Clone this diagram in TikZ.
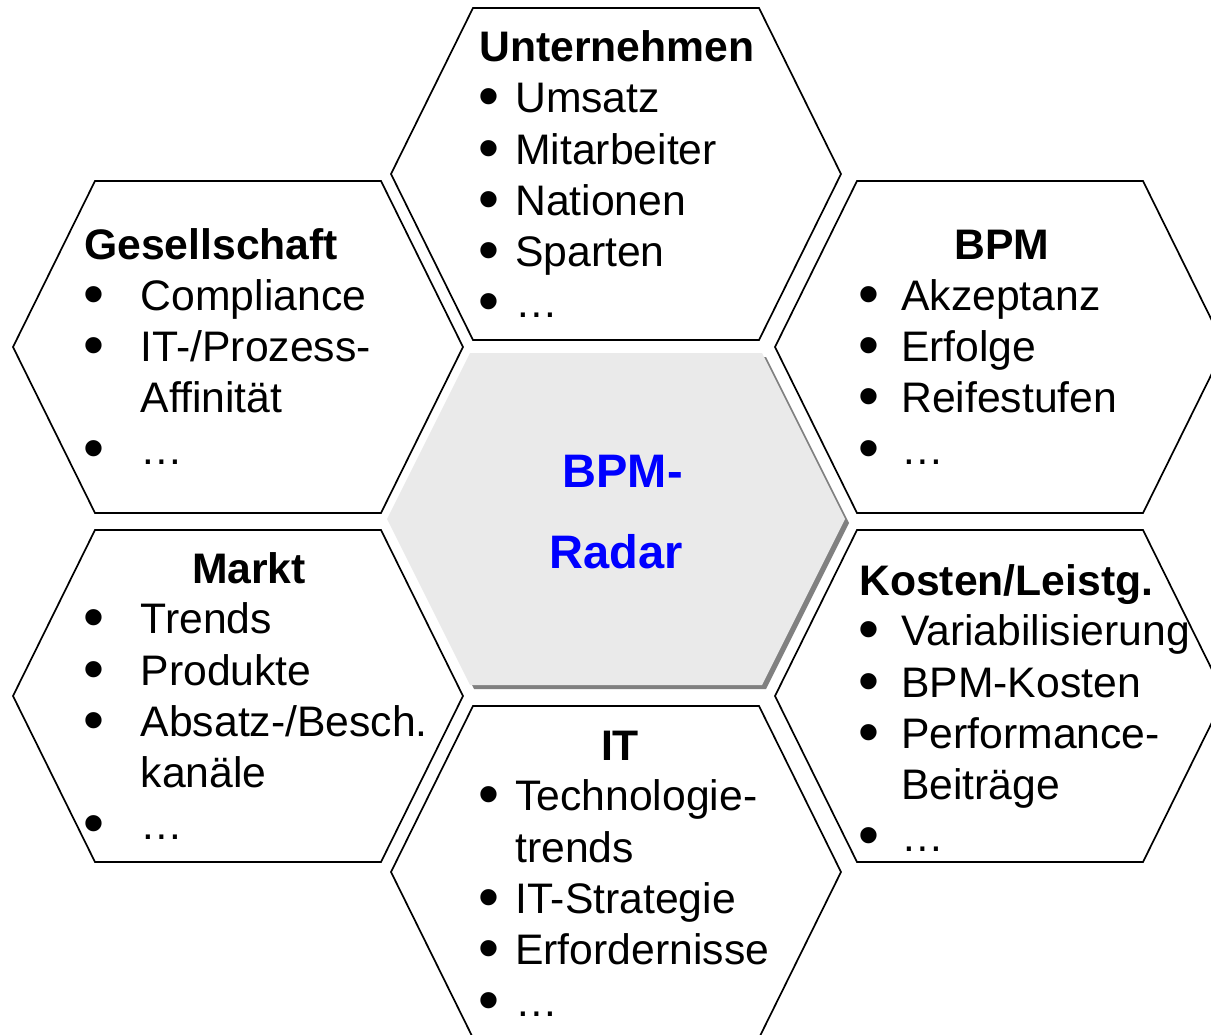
\documentclass[tikz,border=0pt]{standalone}
\usepackage{fontspec}
\usepackage{graphicx}
\setmainfont{Liberation Sans}
\usetikzlibrary{positioning,calc}

\definecolor{radarblue}{RGB}{0,0,255}
\definecolor{hexfill}{RGB}{234,234,234}
\definecolor{hexshadow}{RGB}{128,128,128}

\newlength\blindent
\newcommand{\bul}{\smash{\raisebox{-4pt}{\scalebox{1.4}{•}}}}
\newcommand{\li}[1]{\makebox[\blindent][l]{\bul}#1}
\newcommand{\lc}[1]{\hspace*{\blindent}#1}
% flat hexagon round the centre (#2,#3)
\newcommand{\hexagon}[3][]{\draw[hexline,#1] (#2-225,#3) -- (#2-143,#3-166) -- (#2+143,#3-166) -- (#2+225,#3) -- (#2+143,#3+166) -- (#2-143,#3+166) -- cycle;}

\begin{document}
\begin{tikzpicture}[x=1pt,y=-1pt,
	hexline/.style={draw=black,line width=1.7pt,line join=miter},
	title/.style={inner sep=0pt,font=\fontsize{42.7}{51.3}\selectfont\bfseries},
	list/.style={inner sep=0pt,align=left,anchor=base west,font=\fontsize{42.7}{51.3}\selectfont},
	bulletindent/.code={\setlength\blindent{#1}},
	radar/.style={inner sep=0pt,align=right,text=radarblue,font=\fontsize{47}{81}\selectfont\bfseries}]
	\useasboundingbox (0,0) rectangle (1211,1035);
	\clip (0,0) rectangle (1211,1035);

	% centre (the base of a node of several lines is its last line)
	\fill[hexshadow] (391,523) -- (474,357) -- (766,357) -- (849,523) -- (766,689) -- (474,689) -- cycle;
	\fill[hexfill] (387,519) -- (470,353) -- (762,353) -- (845,519) -- (762,685) -- (470,685) -- cycle;
	\node[radar,anchor=base east] (radar) at (683,568) {BPM-\\Radar};

	% ring
	\hexagon{616}{174}
	\hexagon{238}{347}
	\hexagon{1000}{347}
	\hexagon{238}{696}
	\hexagon{1000}{696}
	\hexagon{616}{872}

	% Unternehmen
	\node[title,anchor=base west] (tUnt) at (479,62) {Unternehmen};
	\node[list,bulletindent=37pt] (lUnt) at (478,318)
		{\li{Umsatz}\\ \li{Mitarbeiter}\\ \li{Nationen}\\ \li{Sparten}\\ \li{…}};

	% Gesellschaft
	\node[title,anchor=base west] (tGes) at (84,260) {Gesellschaft};
	\node[list,bulletindent=57.5pt] (lGes) at (83,464)
		{\li{Compliance}\\ \li{IT-/Prozess-}\\ \lc{Affinität}\\ \li{…}};

	% BPM
	\node[title,anchor=base] (tBPM) at (1002,260) {BPM};
	\node[list,bulletindent=43pt] (lBPM) at (858,464)
		{\li{Akzeptanz}\\ \li{Erfolge}\\ \li{Reifestufen}\\ \li{…}};

	% Markt
	\node[title,anchor=base] (tMarkt) at (249,583) {Markt};
	\node[list,bulletindent=57.5pt] (lMarkt) at (83,839)
		{\li{Trends}\\ \li{Produkte}\\ \li{Absatz-/Besch.}\\ \lc{kanäle}\\ \li{…}};

	% Kosten/Leistg.
	\node[title,anchor=base west] (tKost) at (859,595) {Kosten/Leistg.};
	\node[list,bulletindent=43pt] (lKost) at (858,851)
		{\li{Variabilisierung}\\ \li{BPM-Kosten}\\ \li{Performance-}\\ \lc{Beiträge}\\ \li{…}};

	% IT
	\node[title,anchor=base] (tIT) at (620,760) {IT};
	\node[list,bulletindent=37pt] (lIT) at (478,1016)
		{\li{Technologie-}\\ \lc{trends}\\ \li{IT-Strategie}\\ \li{Erfordernisse}\\ \li{…}};
\end{tikzpicture}
\end{document}
